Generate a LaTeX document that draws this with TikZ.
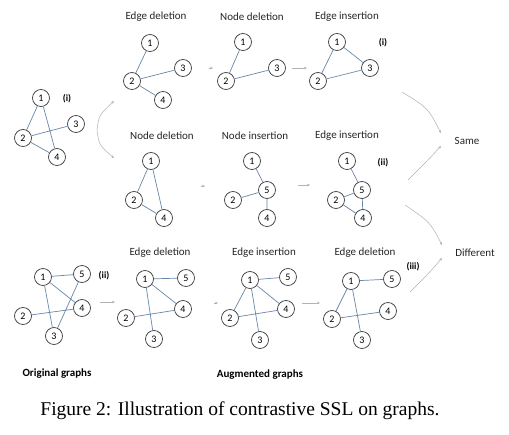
\documentclass[tikz,border=0pt]{standalone}
\usepackage{fontspec}
\setmainfont{Carlito}
\newfontfamily\capfont{Liberation Serif}
\usetikzlibrary{arrows.meta}
\definecolor{edgecol}{RGB}{105,135,170}
\begin{document}
\begin{tikzpicture}[x=1pt,y=-1pt,
  gnode/.style={circle,draw=black!75,line width=0.75pt,minimum size=17pt,inner sep=0pt,font=\fontsize{10}{11}\selectfont},
  gedge/.style={draw=edgecol,line width=0.7pt},
  title/.style={font=\fontsize{11}{12}\selectfont,text=black!85},
  tag/.style={font=\bfseries\fontsize{9.5}{11}\selectfont},
  flow/.style={draw=black!30,line width=0.5pt,-{Stealth[length=3pt,width=2.6pt]}},
]
\useasboundingbox (0,0) rectangle (509,434);
\fill[white] (0,0) rectangle (509,434);

% ---------- Row 1 ----------
% original (i)
\node[gnode] (o1) at (41,98) {1};
\node[gnode] (o2) at (23,138) {2};
\node[gnode] (o3) at (76,124) {3};
\node[gnode] (o4) at (57,157) {4};
\node[tag] (ti) at (67,99) {(i)};
\draw[gedge] (o1)--(o2) (o1)--(o4) (o2)--(o3) (o2)--(o4);

% edge deletion
\node[title] (t1) at (156,17) {Edge deletion};
\node[gnode] (a1) at (150,43) {1};
\node[gnode] (a2) at (132,81) {2};
\node[gnode] (a3) at (183,68) {3};
\node[gnode] (a4) at (163,100) {4};
\draw[gedge] (a1)--(a2) (a2)--(a3) (a2)--(a4);

% node deletion
\node[title] (t2) at (252,17) {Node deletion};
\node[gnode] (b1) at (243,42) {1};
\node[gnode] (b2) at (226,81) {2};
\node[gnode] (b3) at (277,68) {3};
\draw[gedge] (b1)--(b2) (b2)--(b3);

% edge insertion
\node[title] (t3) at (347,17) {Edge insertion};
\node[gnode] (c1) at (337,42) {1};
\node[gnode] (c2) at (318,81) {2};
\node[gnode] (c3) at (370,68) {3};
\node[tag] (tci) at (383,43) {(i)};
\draw[gedge] (c1)--(c2) (c1)--(c3) (c2)--(c3);

% ---------- Row 2 ----------
\node[title] (t4) at (162,136) {Node deletion};
\node[gnode] (d1) at (151,161) {1};
\node[gnode] (d2) at (134,200) {2};
\node[gnode] (d4) at (164,218) {4};
\draw[gedge] (d1)--(d2) (d1)--(d4) (d2)--(d4);

\node[title] (t5) at (255,136) {Node insertion};
\node[gnode] (e1) at (252,161) {1};
\node[gnode] (e5) at (267,190) {5};
\node[gnode] (e2) at (233,200) {2};
\node[gnode] (e4) at (267,218) {4};
\draw[gedge] (e1)--(e5) (e2)--(e5) (e5)--(e4);

\node[title] (t6) at (347,136) {Edge insertion};
\node[gnode] (f1) at (347,161) {1};
\node[gnode] (f5) at (362,190) {5};
\node[gnode] (f2) at (336,200) {2};
\node[gnode] (f4) at (363,218) {4};
\node[tag] (tfii) at (383,163) {(ii)};
\draw[gedge] (f1)--(f5) (f5)--(f2) (f5)--(f4) (f2)--(f4);

% ---------- Row 3 ----------
\node[gnode] (h1) at (43,277) {1};
\node[gnode] (h5) at (82,274) {5};
\node[gnode] (h4) at (82,308) {4};
\node[gnode] (h2) at (23,316) {2};
\node[gnode] (h3) at (54,336) {3};
\node[tag] (thii) at (104,276) {(ii)};
\draw[gedge] (h1)--(h5) (h1)--(h4) (h1)--(h3) (h2)--(h4) (h5)--(h3);

\node[title] (t7) at (160,253) {Edge deletion};
\node[gnode] (i1) at (145,279) {1};
\node[gnode] (i5) at (186,278) {5};
\node[gnode] (i4) at (183,309) {4};
\node[gnode] (i2) at (126,318) {2};
\node[gnode] (i3) at (154,339) {3};
\draw[gedge] (i1)--(i5) (i1)--(i4) (i1)--(i3) (i2)--(i4);

\node[title] (t8) at (264,253) {Edge insertion};
\node[gnode] (j1) at (250,280) {1};
\node[gnode] (j5) at (288,277) {5};
\node[gnode] (j4) at (286,309) {4};
\node[gnode] (j2) at (230,318) {2};
\node[gnode] (j3) at (260,340) {3};
\draw[gedge] (j1)--(j5) (j1)--(j4) (j1)--(j3) (j2)--(j4) (j1)--(j2);

\node[title] (t9) at (365,253) {Edge deletion};
\node[gnode] (k1) at (351,281) {1};
\node[gnode] (k5) at (392,279) {5};
\node[gnode] (k4) at (388,311) {4};
\node[gnode] (k2) at (332,319) {2};
\node[gnode] (k3) at (362,340) {3};
\node[tag] (tkiii) at (413,267) {(iii)};
\draw[gedge] (k1)--(k5) (k1)--(k2) (k1)--(k3) (k2)--(k4);

% ---------- outcome labels ----------
\node[title] (same) at (467,141) {Same};
\node[title] (diff) at (475,253) {Different};
\node[font=\bfseries\fontsize{11}{12}\selectfont] (og) at (57,374) {Original graphs};
\node[font=\bfseries\fontsize{11}{12}\selectfont] (ag) at (260,375) {Augmented graphs};
\node[font=\capfont\fontsize{19.5}{22}\selectfont] (cap) at (240,411) {Figure 2: Illustration of contrastive SSL on graphs.};

% ---------- flow arrows ----------
\coordinate (s0) at (97,130);
\coordinate (u1) at (114,101);
\coordinate (d1e) at (114,158);
\draw[flow] (s0) .. controls (99,115) .. (u1);
\draw[flow] (s0) .. controls (99,145) .. (d1e);

\coordinate (r1a) at (209,68); \coordinate (r1b) at (213,68);
\draw[flow] (r1a) -- (r1b);
\coordinate (r1c) at (292,68); \coordinate (r1d) at (307,68);
\draw[flow] (r1c) -- (r1d);

\coordinate (r2a) at (201,186); \coordinate (r2b) at (205,186);
\draw[flow] (r2a) -- (r2b);
\coordinate (r2c) at (298,185); \coordinate (r2d) at (310,185);
\draw[flow] (r2c) -- (r2d);

\coordinate (r3a) at (100,302); \coordinate (r3b) at (115,302);
\draw[flow] (r3a) -- (r3b);
\coordinate (r3c) at (214,303); \coordinate (r3d) at (218,303);
\draw[flow] (r3c) -- (r3d);
\coordinate (r3e) at (302,303); \coordinate (r3f) at (320,303);
\draw[flow] (r3e) -- (r3f);

\coordinate (sa1) at (402,92); \coordinate (sa2) at (441,133);
\coordinate (sb1) at (408,180); \coordinate (sb2) at (441,146);
\draw[flow] (sa1) .. controls (428,108) .. (sa2);
\draw[flow] (sb1) .. controls (428,160) .. (sb2);
\coordinate (da1) at (405,205); \coordinate (da2) at (442,245);
\coordinate (db1) at (410,292); \coordinate (db2) at (442,258);
\draw[flow] (da1) .. controls (430,222) .. (da2);
\draw[flow] (db1) .. controls (430,272) .. (db2);
\end{tikzpicture}
\end{document}
